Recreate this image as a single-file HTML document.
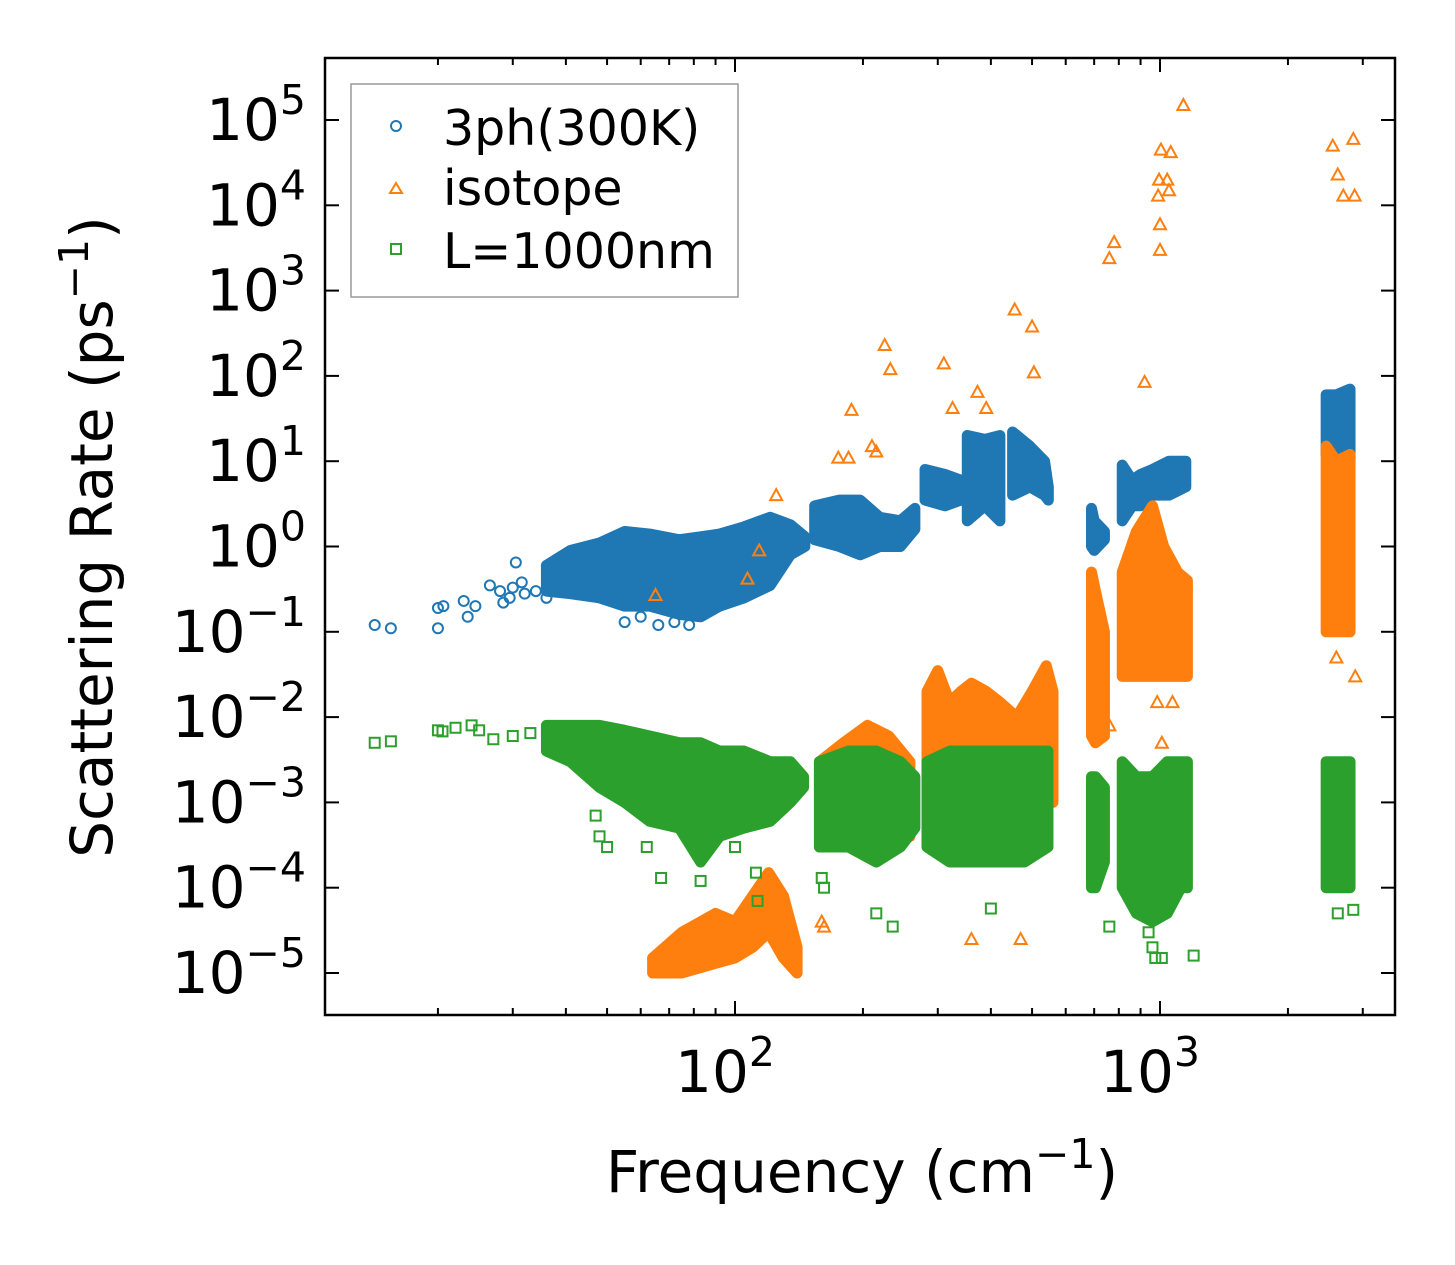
<!DOCTYPE html>
<html><head><meta charset="utf-8">
<style>
html,body{margin:0;padding:0;background:#fff;}
svg{display:block;font-family:"DejaVu Sans","Liberation Sans",sans-serif;}
</style></head>
<body>
<svg id="chart" width="1455" height="1265" viewBox="0 0 1455 1265" xmlns="http://www.w3.org/2000/svg">
<rect width="1455" height="1265" fill="#fff"/>
<g id="marks"></g>
<g id="axes"></g>
<g id="legend">
  <rect x="351" y="84" width="387" height="213" fill="#fff" fill-opacity="0.8" stroke="#999" stroke-width="1.5"/>
  <g>
    <circle cx="396" cy="126" r="5" fill="none" stroke="#1f77b4" stroke-width="2"/>
    <text x="443" y="145" font-size="49">3ph(300K)</text>
  </g>
  <g>
    <polygon points="396,183 402,193 390,193" fill="none" stroke="#ff7f0e" stroke-width="2"/>
    <text x="443" y="205" font-size="49">isotope</text>
  </g>
  <g>
    <rect x="391" y="244" width="10" height="10" fill="none" stroke="#2ca02c" stroke-width="2"/>
    <text x="443" y="268" font-size="49">L=1000nm</text>
  </g>
</g>
<text x="862" y="1192" font-size="58" text-anchor="middle">Frequency (cm<tspan dy="-24" font-size="41">−1</tspan><tspan dy="24">)</tspan></text>
<text transform="translate(112,537) rotate(-90)" font-size="58" text-anchor="middle">Scattering Rate (ps<tspan dy="-24" font-size="41">−1</tspan><tspan dy="24">)</tspan></text>
</svg>
<script>
// ---- data ----
// dense clusters: [frequency, lowRate, highRate]
const blueClusters = [
 [[36,0.3,0.6],[41,0.28,0.9],[48,0.25,1.1],[55,0.2,1.5],[63,0.2,1.4],[74,0.16,1.2],[83,0.15,1.3],[92,0.2,1.4],[105,0.25,1.7],[121,0.35,2.2],[135,0.8,1.8],[146,1.0,1.3]],
 [[154,1.2,3.0],[176,1.0,3.5],[197,0.8,3.5],[219,1.0,2.2],[245,1.0,2.0],[265,1.6,2.8]],
 [[280,3.5,8],[312,3,7],[340,3.5,6]],
 [[352,2,20],[387,3,18],[420,2,20]],
 [[450,4,22],[494,5,15],[535,4,10],[546,3.5,5]],
 [[690,1.0,2.8],[700,0.9,2.0],[740,1.2,1.5]],
 [[815,2,9],[860,3,6],[900,3,7],[960,4,8],[1050,4,10],[1150,5,10]],
 [[2460,12,60],[2600,12,60],[2800,10,70]]
];
const orangeClusters = [
 [[64,1e-5,1.5e-5],[75,1e-5,3e-5],[90,1.3e-5,5e-5],[100,1.5e-5,4e-5],[110,2e-5,8e-5],[120,3e-5,1.5e-4],[130,1.5e-5,8e-5],[140,1e-5,2e-5]],
 [[158,3e-4,3e-3],[180,4e-4,5e-3],[205,3e-4,8e-3],[230,3e-4,6e-3],[258,4e-4,3e-3]],
 [[283,1e-3,0.02],[300,1e-3,0.035],[320,1e-3,0.015],[340,1e-3,0.02],[360,1e-3,0.025],[390,1e-3,0.02],[420,1e-3,0.015],[460,1e-3,0.01],[500,1e-3,0.02],[540,1e-3,0.04],[560,1e-3,0.02]],
 [[690,0.006,0.5],[705,0.005,0.3],[740,0.006,0.1]],
 [[815,0.03,0.5],[880,0.03,1.5],[960,0.03,3],[1020,0.03,1],[1100,0.03,0.5],[1160,0.03,0.4]],
 [[2460,0.1,15],[2600,0.1,10],[2800,0.1,12]]
];
const greenClusters = [
 [[36,0.004,0.008],[41,0.003,0.008],[48,0.0015,0.008],[55,0.001,0.007],[63,0.0006,0.006],[74,0.0005,0.005],[83,0.0002,0.005],[92,0.0004,0.004],[105,0.0005,0.004],[121,0.0006,0.003],[135,0.001,0.003],[145,0.0015,0.002]],
 [[158,0.0003,0.003],[185,0.0003,0.004],[215,0.0002,0.004],[245,0.0003,0.003],[265,0.0005,0.002]],
 [[283,0.0003,0.003],[320,0.0002,0.004],[360,0.0002,0.004],[420,0.0002,0.004],[480,0.0002,0.004],[545,0.0003,0.004]],
 [[690,0.0001,0.002],[705,0.0001,0.002],[740,0.0002,0.0015]],
 [[815,0.0001,0.003],[880,0.00005,0.002],[960,0.00004,0.002],[1040,0.00005,0.003],[1120,0.0001,0.003],[1160,0.0001,0.003]],
 [[2460,0.0001,0.003],[2600,0.0001,0.003],[2800,0.0001,0.003]]
];
// individual scattered points: [frequency, rate]
const bluePoints = [[14.2,0.12],[15.5,0.11],[20,0.19],[20,0.11],[20.6,0.2],[23,0.23],[23.5,0.15],[24.5,0.2],[26.5,0.35],[28,0.3],[28.5,0.22],[29.5,0.25],[30,0.33],[30.5,0.65],[31.5,0.38],[32,0.28],[34,0.3],[36,0.25],[38,0.5],[40,0.6],[45,0.45],[55,0.13],[60,0.15],[66,0.12],[72,0.13],[78,0.12]];
const orangePoints = [[65,0.27],[114,0.9],[107,0.42],[125,4],[188,40],[175,11],[185,11],[210,15],[215,13],[225,230],[232,120],[310,140],[325,42],[372,65],[390,42],[455,600],[500,380],[505,110],[760,2400],[780,3700],[920,85],[1000,3000],[1000,6000],[990,13000],[995,20000],[1005,45000],[1040,20000],[1050,15000],[1060,42000],[1135,150000],[2550,50000],[2620,23000],[2700,13000],[2850,60000],[2870,13000],[2600,0.05],[2880,0.03],[360,2.5e-5],[470,2.5e-5],[160,4e-5],[162,3.5e-5],[985,0.015],[1010,0.005],[760,0.008],[1070,0.015]];
const greenPoints = [[14.2,0.005],[15.5,0.0052],[20,0.007],[20.5,0.0068],[22,0.0075],[24,0.008],[25,0.007],[27,0.0055],[30,0.006],[33,0.0065],[47,0.0007],[48,0.0004],[50,0.0003],[62,0.0003],[67,0.00013],[83,0.00012],[100,0.0003],[112,0.00015],[113,7e-5],[160,0.00013],[162,0.0001],[215,5e-5],[235,3.5e-5],[400,5.7e-5],[760,3.5e-5],[940,3e-5],[960,2e-5],[975,1.5e-5],[1010,1.5e-5],[1200,1.6e-5],[2620,5e-5],[2850,5.5e-5]];
const xTickValues = [100,1000];
const xTickExp = ["2","3"];
const yTickValues = [1e5,1e4,1e3,1e2,1e1,1e0,1e-1,1e-2,1e-3,1e-4,1e-5];
const yTickExp = ["5","4","3","2","1","0","−1","−2","−3","−4","−5"];

// ---- axes functions ----
const PL=325, PR=1395, PT=58, PB=1015;
function xs(f){ return 735 + (Math.log10(f)-2)*425; }
function ys(v){ return 120 + (5-Math.log10(v))*85.3; }
const NS="http://www.w3.org/2000/svg";
function mk(tag, attrs, parent){ const e=document.createElementNS(NS,tag); for(const k in attrs) e.setAttribute(k,attrs[k]); parent.appendChild(e); return e; }

const marks=document.getElementById('marks');
const colors={blue:"#1f77b4",orange:"#ff7f0e",green:"#2ca02c"};
function drawClusters(list,color,name){
  list.forEach((c,i)=>{
    const top=c.map(d=>xs(d[0])+","+ys(d[2]));
    const bot=c.slice().reverse().map(d=>xs(d[0])+","+ys(d[1]));
    const p=mk('polygon',{points:top.concat(bot).join(" "),fill:color,stroke:color,'stroke-width':11,'stroke-linejoin':'round'},marks);
    
    
  });
}
function drawPoints(list,color,shape,name){
  list.forEach(d=>{
    const x=xs(d[0]), y=ys(d[1]); let e;
    if(shape==='circle') e=mk('circle',{cx:x,cy:y,r:5,fill:'none',stroke:color,'stroke-width':2},marks);
    else if(shape==='tri') e=mk('polygon',{points:`${x},${y-6} ${x+6},${y+5} ${x-6},${y+5}`,fill:'none',stroke:color,'stroke-width':2},marks);
    else e=mk('rect',{x:x-5,y:y-5,width:10,height:10,fill:'none',stroke:color,'stroke-width':2},marks);
    
    
  });
}
drawClusters(blueClusters,colors.blue,'3ph');
drawPoints(bluePoints,colors.blue,'circle','3ph');
drawClusters(orangeClusters,colors.orange,'isotope');
drawPoints(orangePoints,colors.orange,'tri','isotope');
drawClusters(greenClusters,colors.green,'boundary');
drawPoints(greenPoints,colors.green,'square','boundary');

// ---- axes ----
const ax=document.getElementById('axes');
const frame=mk('rect',{x:PL,y:PT,width:PR-PL,height:PB-PT,fill:'none',stroke:'#000','stroke-width':2.5},ax);


for(let d=10; d<=1000; d*=10){
  for(let m=1;m<10;m++){
    const f=d*m; const x=xs(f);
    if(x<PL||x>PR) continue;
    const len=(m===1)?14:7;
    const t1=mk('line',{x1:x,x2:x,y1:PB,y2:PB-len,stroke:'#000','stroke-width':2},ax);
    
    
    const t2=mk('line',{x1:x,x2:x,y1:PT,y2:PT+len,stroke:'#000','stroke-width':2},ax);
    
    
  }
}
xTickValues.forEach((v,i)=>{
  const t=mk('text',{x:xs(v)-10,y:1092,'font-size':58,'text-anchor':'middle'},ax);
  
  
  t.innerHTML='10<tspan dy="-26" font-size="41">'+xTickExp[i]+'</tspan>';
});
yTickValues.forEach((v,i)=>{
  const y=ys(v);
  const a=mk('line',{x1:PL,x2:PL+14,y1:y,y2:y,stroke:'#000','stroke-width':2},ax);
  
  
  const b=mk('line',{x1:PR,x2:PR-14,y1:y,y2:y,stroke:'#000','stroke-width':2},ax);
  
  
  const t=mk('text',{x:306,y:y+20,'font-size':58,'text-anchor':'end'},ax);
  
  
  t.innerHTML='10<tspan dy="-26" font-size="41">'+yTickExp[i]+'</tspan>';
});
</script>
</body></html>
